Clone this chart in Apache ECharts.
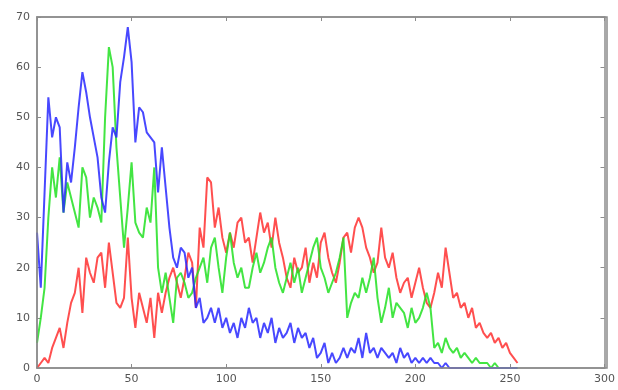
<!DOCTYPE html>
<html>
<head>
<meta charset="utf-8">
<script src="https://cdn.jsdelivr.net/npm/echarts@6/dist/echarts.min.js"></script>
<style>
  html, body { margin: 0; padding: 0; background: #fff; }
  #chart { width: 618px; height: 390px; }
</style>
</head>
<body>
<div id="chart"></div>
<script>
// intensity levels (read every 2 bins)
const levels = [
  0, 2, 4, 6, 8, 10, 12, 14, 16, 18, 20, 22, 24, 26, 28, 30, 32, 34, 36, 38,
  40, 42, 44, 46, 48, 50, 52, 54, 56, 58, 60, 62, 64, 66, 68, 70, 72, 74, 76, 78,
  80, 82, 84, 86, 88, 90, 92, 94, 96, 98, 100, 102, 104, 106, 108, 110, 112, 114, 116, 118,
  120, 122, 124, 126, 128, 130, 132, 134, 136, 138, 140, 142, 144, 146, 148, 150, 152, 154, 156, 158,
  160, 162, 164, 166, 168, 170, 172, 174, 176, 178, 180, 182, 184, 186, 188, 190, 192, 194, 196, 198,
  200, 202, 204, 206, 208, 210, 212, 214, 216, 218, 220, 222, 224, 226, 228, 230, 232, 234, 236, 238,
  240, 242, 244, 246, 248, 250, 252, 254
]

const redCounts = [
  0, 1, 2, 1, 4, 6, 8, 4, 9, 13, 15, 20, 11, 22, 19, 17, 22, 23, 16, 25,
  19, 13, 12, 14, 26, 14, 8, 15, 12, 9, 14, 6, 15, 11, 15, 18, 20, 17, 14, 18,
  23, 21, 12, 28, 24, 38, 37, 28, 32, 26, 23, 27, 24, 29, 30, 25, 26, 21, 26, 31,
  27, 29, 24, 30, 25, 22, 18, 16, 22, 19, 20, 24, 17, 21, 18, 25, 27, 22, 19, 17,
  21, 26, 27, 23, 28, 30, 28, 24, 22, 19, 21, 28, 22, 20, 23, 18, 15, 17, 18, 14,
  17, 20, 16, 13, 12, 15, 19, 16, 24, 19, 14, 15, 12, 13, 10, 12, 8, 9, 7, 6,
  7, 5, 6, 4, 5, 3, 2, 1
]

const greenCounts = [
  5, 10, 16, 30, 40, 34, 42, 31, 37, 34, 31, 28, 40, 38, 30, 34, 32, 29, 50, 64,
  60, 44, 34, 24, 32, 41, 29, 27, 26, 32, 29, 40, 20, 15, 19, 14, 9, 18, 19, 17,
  14, 15, 18, 20, 22, 17, 24, 26, 20, 15, 22, 27, 21, 18, 20, 16, 16, 20, 23, 19,
  21, 24, 26, 20, 17, 15, 18, 21, 17, 20, 15, 18, 21, 24, 26, 20, 18, 15, 17, 19,
  22, 26, 10, 13, 15, 14, 18, 15, 18, 22, 14, 9, 12, 16, 10, 13, 12, 11, 8, 12,
  9, 10, 12, 15, 12, 4, 5, 3, 6, 4, 3, 4, 2, 3, 2, 1, 2, 1, 1, 1,
  0, 1, 0, 0, 0, 0, 0, 0
]

const blueCounts = [
  27, 16, 35, 54, 46, 50, 48, 31, 41, 37, 44, 52, 59, 55, 50, 46, 42, 34, 31, 41,
  48, 46, 57, 62, 68, 61, 45, 52, 51, 47, 46, 45, 35, 44, 36, 28, 22, 20, 24, 23,
  18, 20, 12, 14, 9, 10, 12, 9, 12, 8, 10, 7, 9, 6, 10, 8, 12, 9, 10, 6,
  9, 7, 10, 5, 8, 6, 7, 9, 5, 8, 6, 7, 4, 6, 2, 3, 5, 1, 3, 1,
  2, 4, 2, 4, 3, 6, 2, 7, 3, 4, 2, 4, 3, 2, 3, 1, 4, 2, 3, 1,
  2, 1, 2, 1, 2, 1, 1, 0, 1, 0, 0, 0, 0, 0, 0, 0, 0, 0, 0, 0,
  0, 0, 0, 0, 0, 0, 0, 0
]

const xTicks = { min: 0, max: 300, step: 50 }
const yTicks = { min: 0, max: 70, step: 10 }

function pairs(vals) {
  return levels.map((lv, i) => [lv, vals[i]])
}

const plot = { left: 37, right: 11, top: 17, bottom: 22 }
const frameColor = '#8c8c8c'
const labelColor = '#555'

function axisBase(extra) {
  return Object.assign({
    type: 'value',
    splitLine: { show: false },
    axisLine: { show: true, onZero: false, lineStyle: { color: frameColor, width: 1.5 } },
    axisTick: { show: true, inside: true, length: 4, lineStyle: { color: frameColor } },
    axisLabel: { color: labelColor, fontSize: 11, fontFamily: 'DejaVu Sans' }
  }, extra)
}

function lineSeries(name, vals, color) {
  return {
    name: name,
    type: 'line',
    data: pairs(vals),
    showSymbol: false,
    animation: false,
    lineStyle: { color: color, width: 2, opacity: 0.85 },
    itemStyle: { color: color }
  }
}

const chart = echarts.init(document.getElementById('chart'))
chart.setOption({
  backgroundColor: '#fff',
  animation: false,
  grid: plot,
  // box around the plot area (MATLAB style)
  graphic: [{
    type: 'rect',
    z: 50,
    shape: { x: plot.left, y: plot.top, width: 618 - plot.left - plot.right, height: 390 - plot.top - plot.bottom },
    style: { fill: 'none', stroke: frameColor, lineWidth: 1.5 },
    silent: true
  }],
  xAxis: [
    axisBase({ position: 'bottom', min: xTicks.min, max: xTicks.max, interval: xTicks.step,
      axisLabel: { color: labelColor, fontSize: 11, margin: 6, fontFamily: 'DejaVu Sans' } }),
    axisBase({ position: 'top', min: xTicks.min, max: xTicks.max, interval: xTicks.step,
      axisLabel: { show: false } })
  ],
  yAxis: [
    axisBase({ position: 'left', min: yTicks.min, max: yTicks.max, interval: yTicks.step,
      axisLabel: { color: labelColor, fontSize: 11, margin: 7, fontFamily: 'DejaVu Sans' } }),
    axisBase({ position: 'right', min: yTicks.min, max: yTicks.max, interval: yTicks.step,
      axisLabel: { show: false } })
  ],
  series: [
    lineSeries('Red', redCounts, '#ff3030'),
    lineSeries('Green', greenCounts, '#22e022'),
    lineSeries('Blue', blueCounts, '#2828ff')
  ]
})
</script>
</body>
</html>
